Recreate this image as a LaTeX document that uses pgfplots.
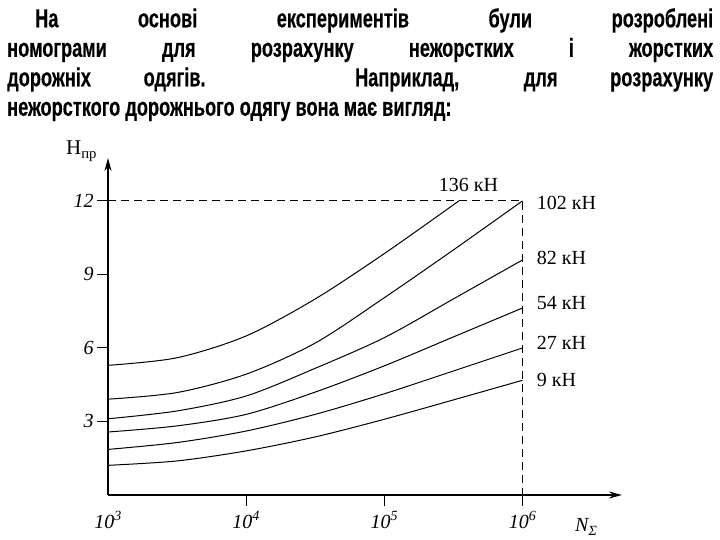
\documentclass[border=0pt]{standalone}
\usepackage{fontspec}
\setmainfont{Liberation Serif}
\newfontfamily\headfont[FakeStretch=0.70, BoldFeatures={FakeBold=0.3}]{Liberation Sans}
\usepackage{pgfplots}
\pgfplotsset{compat=1.18}
\usetikzlibrary{arrows.meta}

\begin{document}
\begin{tikzpicture}
\path[use as bounding box] (0,0) rectangle (720pt,540pt);

% header text
\node[anchor=north west, inner sep=0pt, text width=706pt, align=justify,
      font={\headfont\bfseries\fontsize{26}{29.5}\selectfont}]
  at (7pt,532pt)
  {\baselineskip=29.5pt
   \tolerance=10000\hyphenpenalty=10000
   \hspace*{28pt}На основі експериментів були розроблені\linebreak
   номограми для розрахунку нежорстких і жорстких\linebreak
   дорожніх одягів. Наприклад, для розрахунку\linebreak
   нежорсткого дорожнього одягу вона має вигляд:\par};

\begin{axis}[
    at={(108pt,45pt)}, anchor=south west,
    scale only axis, width=514pt, height=337pt,
    xmode=log, xmin=1e3, xmax=5.25e6,
    ymin=0, ymax=13.75,
    axis lines=left,
    axis line style={line width=1.6pt, -{Stealth[length=13pt,width=7pt]}},
    xminorticks=false, yminorticks=false,
    tick align=outside,
    major tick length=11pt,
    tick style={line width=1pt, black},
    xtick={1e4,1e5,1e6},
    xticklabels={\textit{10\textsuperscript{4}},\textit{10\textsuperscript{5}},\textit{10\textsuperscript{6}}},
    extra x ticks={1e3},
    extra x tick labels={\textit{10\textsuperscript{3}}},
    extra x tick style={major tick length=0pt, xticklabel style={yshift=-11pt}},
    ytick={3,6,9,12},
    yticklabels={\textit{3},\textit{6},\textit{9},\textit{12}},
    tick label style={font=\fontsize{20}{20}\selectfont},
    xticklabel style={yshift=-2pt},
    clip=false,
]

% dashed frame
\addplot[black, line width=0.9pt, dash pattern=on 8pt off 5pt]
  coordinates {(1e3,12) (1e6,12) (1e6,0)};

% 9 kN
\addplot[black, line width=1pt, smooth] coordinates {
  (1e3,1.21) (3162.3,1.39) (1e4,1.80) (31623,2.37) (1e5,3.09) (316228,3.88) (1e6,4.68)};
% 27 kN
\addplot[black, line width=1pt, smooth] coordinates {
  (1e3,1.86) (3162.3,2.14) (1e4,2.61) (31623,3.29) (1e5,4.13) (316228,5.06) (1e6,6.00)};
% 54 kN
\addplot[black, line width=1pt, smooth] coordinates {
  (1e3,2.57) (3162.3,2.82) (1e4,3.29) (31623,4.20) (1e5,5.27) (316228,6.45) (1e6,7.63)};
% 82 kN
\addplot[black, line width=1pt, smooth] coordinates {
  (1e3,3.11) (3162.3,3.43) (1e4,4.04) (31623,5.17) (1e5,6.42) (316228,8.00) (1e6,9.59)};
% 102 kN
\addplot[black, line width=1pt, smooth] coordinates {
  (1e3,3.91) (3162.3,4.18) (1e4,4.93) (31623,6.20) (1e5,8.05) (316228,10.00) (1e6,12.00)};
% 136 kN
\addplot[black, line width=1pt, smooth] coordinates {
  (1e3,5.29) (3162.3,5.60) (1e4,6.49) (31623,8.00) (1e5,9.85) (346737,12.00)};

\begin{scope}[every node/.style={inner sep=0pt, font=\fontsize{20}{20}\selectfont}]
\node[anchor=base] at (axis cs:4.07e5,12.37) {136 кН};
\node[anchor=base west] at (axis cs:1.265e6,11.63) {102 кН};
\node[anchor=base west] at (axis cs:1.265e6,9.39) {82 кН};
\node[anchor=base west] at (axis cs:1.265e6,7.55) {54 кН};
\node[anchor=base west] at (axis cs:1.265e6,5.92) {27 кН};
\node[anchor=base west] at (axis cs:1.265e6,4.42) {9 кН};
\end{scope}
\end{axis}

% axis names
\node[anchor=base west, inner sep=0pt] at (66pt,385pt)
  {\fontsize{21}{21}\selectfont H\textsubscript{пр}};
\node[anchor=base west, inner sep=0pt] at (575pt,8pt)
  {\fontsize{20}{20}\selectfont\textit{N\textsubscript{Σ}}};
\end{tikzpicture}
\end{document}
